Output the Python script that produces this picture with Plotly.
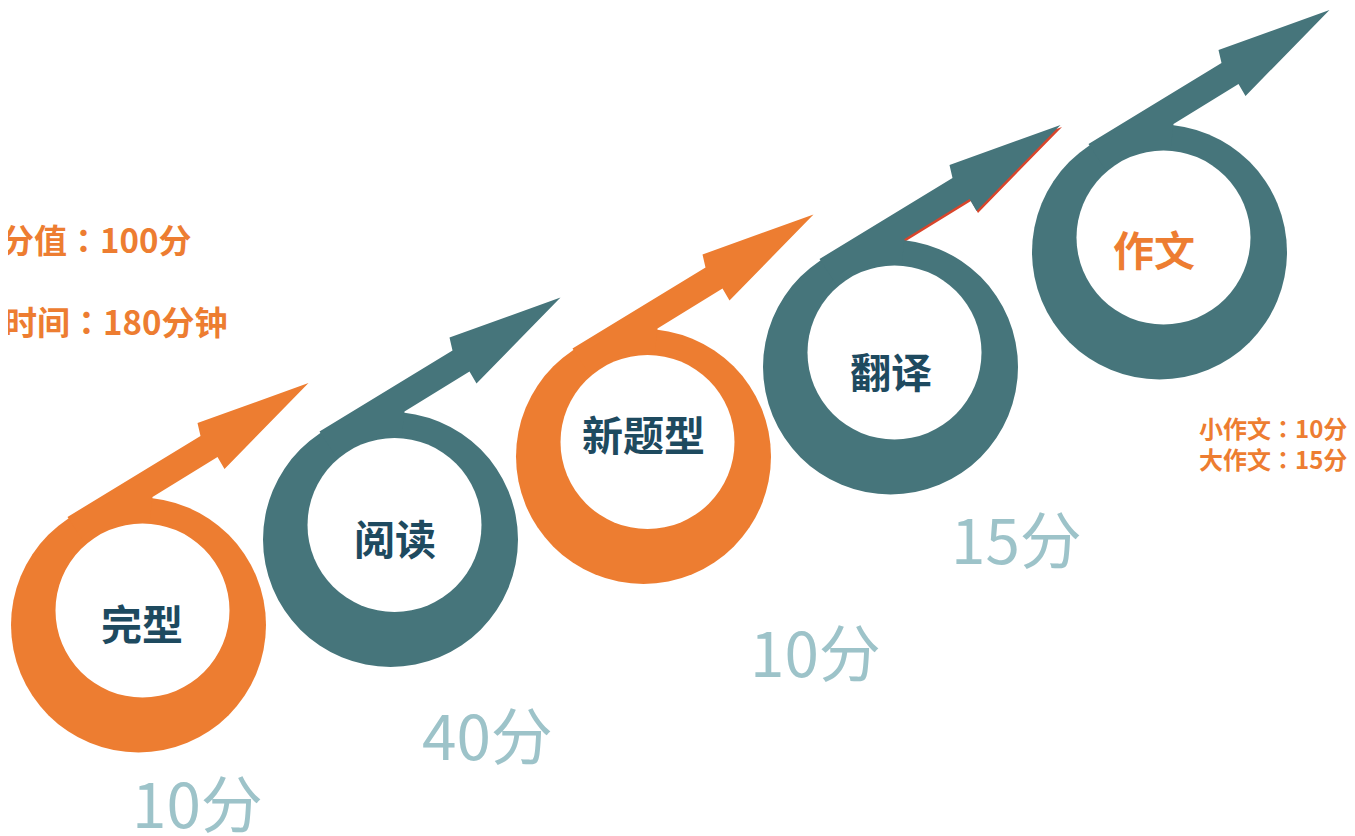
import plotly.graph_objects as go

# ---------------- data ----------------
categories = ["完型", "阅读", "新题型", "翻译", "作文"]
scores = [10, 40, 10, 15, None]
essay_parts = ["小作文", "大作文"]
essay_scores = [10, 15]
total_score = 100
total_minutes = 180

# ---------------- layout / style ----------------
W, H = 1355, 836
PAGE_OFF = 8  # default body margin of the html page
ORANGE = "#ED7D31"
TEAL = "#46757B"
NAVY = "#1E4A5F"
SCORE_COL = "#9DC3C9"
FONT = "Noto Sans CJK SC"
COLON = "<span style=\"font-family:'Noto Sans CJK TC'\">：</span>"  # centred full-width colon

ring_colors = [ORANGE, TEAL, ORANGE, TEAL, TEAL]
label_colors = [NAVY, NAVY, NAVY, NAVY, ORANGE]
centers = [(138.5, 625), (390.5, 539.5), (643.5, 456.5), (890.5, 367), (1159.5, 252)]
label_pos = [(142, 622), (395, 537), (643, 433), (891, 370), (1154, 248)]
score_pos = [(197, 801), (487, 733), (815, 650), (1016, 537), None]
R_OUT, R_IN = 127.5, 87
IN_OFF = (4, -14.5)
# arrow outline relative to ring center
arrow_rel = [(-71, -108), (62, -189), (59, -202), (170, -242), (86, -156), (79, -168), (14, -128), (0, 0)]
shadow_item = 3

fig = go.Figure()
shapes = []
annotations = []


def arrow_path(cx, cy, dx=0, dy=0):
    pts = [(cx + x + dx, cy + y + dy) for x, y in arrow_rel]
    return "M " + " L ".join(f"{x:.1f},{y:.1f}" for x, y in pts) + " Z"


for i, name in enumerate(categories):
    cx, cy = centers[i]
    col = ring_colors[i]
    if i == shadow_item:
        shapes.append(dict(type="path", path=arrow_path(cx, cy, 1.5, 2), fillcolor="#D9452B",
                           line=dict(width=0), layer="above"))
    shapes.append(dict(type="circle", x0=cx - R_OUT, x1=cx + R_OUT, y0=cy - R_OUT, y1=cy + R_OUT,
                       fillcolor=col, line=dict(width=0), layer="above"))
    shapes.append(dict(type="path", path=arrow_path(cx, cy), fillcolor=col,
                       line=dict(width=0), layer="above"))
    ix, iy = cx + IN_OFF[0], cy + IN_OFF[1]
    shapes.append(dict(type="circle", x0=ix - R_IN, x1=ix + R_IN, y0=iy - R_IN, y1=iy + R_IN,
                       fillcolor="white", line=dict(width=0), layer="above"))
    lx, ly = label_pos[i]
    annotations.append(dict(x=lx, y=ly, text=f"<b>{name}</b>", showarrow=False,
                            font=dict(family=FONT, size=41, color=label_colors[i]),
                            xanchor="center", yanchor="middle"))
    if scores[i] is not None:
        sx, sy = score_pos[i]
        annotations.append(dict(x=sx, y=sy, text=f"{scores[i]}分", showarrow=False,
                                font=dict(family=FONT, size=62, color=SCORE_COL),
                                xanchor="center", yanchor="middle"))

# left summary texts (left part runs off the page, as in the original)
annotations.append(dict(x=193, y=239, text=f"<b>分值{COLON}{total_score}分</b>", showarrow=False,
                        font=dict(family=FONT, size=33, color=ORANGE), xanchor="right", yanchor="middle"))
annotations.append(dict(x=229, y=321, text=f"<b>时间{COLON}{total_minutes}分钟</b>", showarrow=False,
                        font=dict(family=FONT, size=33, color=ORANGE), xanchor="right", yanchor="middle"))

# essay breakdown
essay_text = "<br>".join(f"<b>{p}{COLON}{s}分</b>" for p, s in zip(essay_parts, essay_scores))
annotations.append(dict(x=1349, y=443, text=essay_text, showarrow=False, align="left",
                        font=dict(family=FONT, size=24, color=ORANGE), xanchor="right", yanchor="middle"))

fig.update_layout(
    width=W, height=H, autosize=False,
    margin=dict(l=0, r=0, t=0, b=0),
    paper_bgcolor="white", plot_bgcolor="white",
    xaxis=dict(range=[PAGE_OFF, W + PAGE_OFF], visible=False, fixedrange=True),
    yaxis=dict(range=[H + PAGE_OFF, PAGE_OFF], visible=False, fixedrange=True),
    shapes=shapes, annotations=annotations, showlegend=False,
)
fig.write_html("out.html", config={"displayModeBar": False})
